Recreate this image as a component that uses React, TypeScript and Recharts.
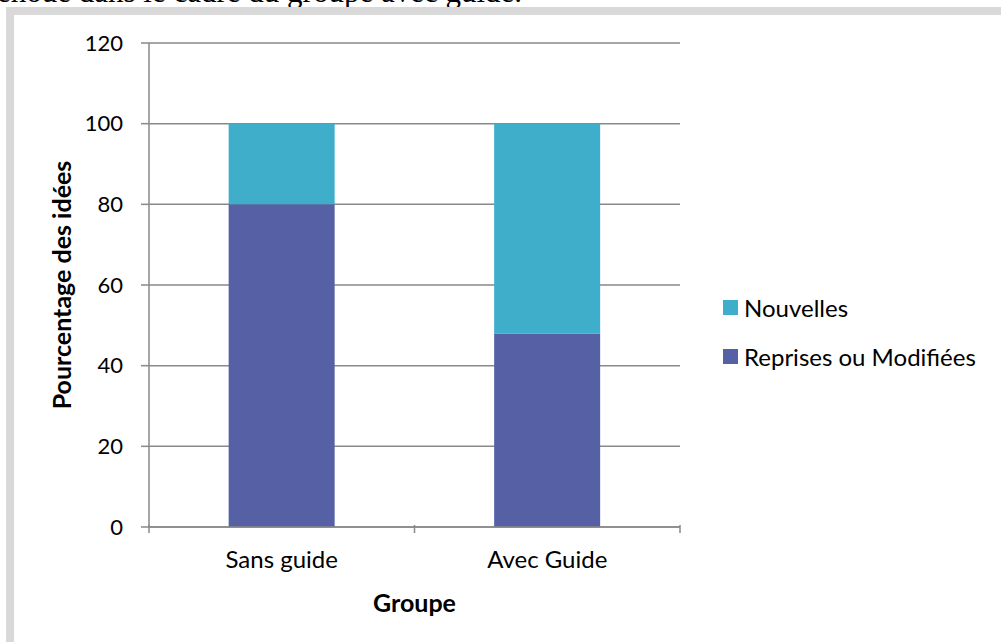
import React from "react";
import { BarChart, Bar, XAxis, YAxis, CartesianGrid, Legend, Label } from "recharts";

// Groups and percentages
const groups = ["Sans guide", "Avec Guide"];
const reprises = [80, 48];
const nouvelles = [20, 52];
const yTicks = [0, 20, 40, 60, 80, 100, 120];

const data = groups.map((g, i) => ({
  groupe: g,
  reprises: reprises[i],
  nouvelles: nouvelles[i],
}));

const axisGray = "#898989";
const font = "Lato, 'Open Sans', sans-serif";

function LegendBox(props: any) {
  const items = props.payload || [];
  return (
    <div style={{ fontFamily: font, fontSize: 24, color: "#000" }}>
      {items.map((it: any) => (
        <div key={it.value} style={{ display: "flex", alignItems: "center", height: 28, marginBottom: 21 }}>
          <span style={{ width: 15, height: 15, background: it.color, marginRight: 6, display: "inline-block" }} />
          <span>{it.value}</span>
        </div>
      ))}
    </div>
  );
}

// category tick: label plus Excel-style tick marks on the band boundaries
function GroupTick(props: any) {
  const { x, y, payload, index, visibleTicksCount } = props;
  const half = payload.offset || 0;
  const top = y - 30;
  return (
    <g>
      <line x1={x - half} x2={x - half} y1={top} y2={top + 8} stroke={axisGray} strokeWidth={1.5} />
      {index === visibleTicksCount - 1 && (
        <line x1={x + half} x2={x + half} y1={top} y2={top + 8} stroke={axisGray} strokeWidth={1.5} />
      )}
      <text x={x} y={top + 43} textAnchor="middle" fill="#000" fontSize={24} fontFamily={font}>
        {payload.value}
      </text>
    </g>
  );
}

export default function App() {
  return (
    <div
      style={{
        position: "absolute",
        left: 0,
        top: 0,
        width: 1001,
        height: 642,
        overflow: "hidden",
        background: "#fff",
      }}
    >
      <div
        style={{
          position: "absolute",
          left: -3,
          top: -23,
          fontFamily: "'Liberation Serif', 'Times New Roman', serif",
          fontSize: 31,
          lineHeight: "30px",
          whiteSpace: "nowrap",
          color: "#000",
        }}
      >
        ehoue dans le cadre du groupe avec guide.
      </div>
      <div
        style={{
          position: "absolute",
          left: 6,
          top: 7,
          width: 1100,
          height: 700,
          borderLeft: "8px solid #d9d9d9",
          borderTop: "8px solid #d9d9d9",
          background: "#fff",
        }}
      />
      <div style={{ position: "absolute", left: 0, top: 0 }}>
        <BarChart
          width={1001}
          height={642}
          data={data}
          margin={{ top: 43, right: 321, bottom: 15, left: 89 }}
          barCategoryGap="30%"
        >
          <CartesianGrid vertical={false} stroke={axisGray} strokeWidth={1.5} />
          <XAxis
            dataKey="groupe"
            tickLine={false}
            axisLine={{ stroke: axisGray, strokeWidth: 1.5 }}
            tick={<GroupTick />}
            tickMargin={22}
            height={100}
          >
            <Label
              value="Groupe"
              position="center"
              dy={26}
              style={{ fontFamily: font, fontSize: 25, fontWeight: 700, fill: "#000" }}
            />
          </XAxis>
          <YAxis
            domain={[0, 120]}
            ticks={yTicks}
            width={60}
            axisLine={{ stroke: axisGray, strokeWidth: 1.5 }}
            tickLine={{ stroke: axisGray, strokeWidth: 1.5 }}
            tickSize={8}
            tickMargin={18}
            tick={{ fill: "#000", fontSize: 22, fontFamily: font }}
          >
            <Label
              value="Pourcentage des idées"
              angle={-90}
              position="center"
              dx={-57}
              style={{ fontFamily: font, fontSize: 25, fontWeight: 700, fill: "#000", textAnchor: "middle" }}
            />
          </YAxis>
          <Legend
            layout="horizontal"
            verticalAlign="middle"
            align="center"
            content={<LegendBox />}
            wrapperStyle={{ position: "absolute", left: 723, top: 293, width: 280 }}
          />
          <Bar dataKey="reprises" name="Reprises ou Modifiées" stackId="a" fill="#5560A5" isAnimationActive={false} />
          <Bar dataKey="nouvelles" name="Nouvelles" stackId="a" fill="#3EAECB" isAnimationActive={false} />
        </BarChart>
      </div>
    </div>
  );
}
